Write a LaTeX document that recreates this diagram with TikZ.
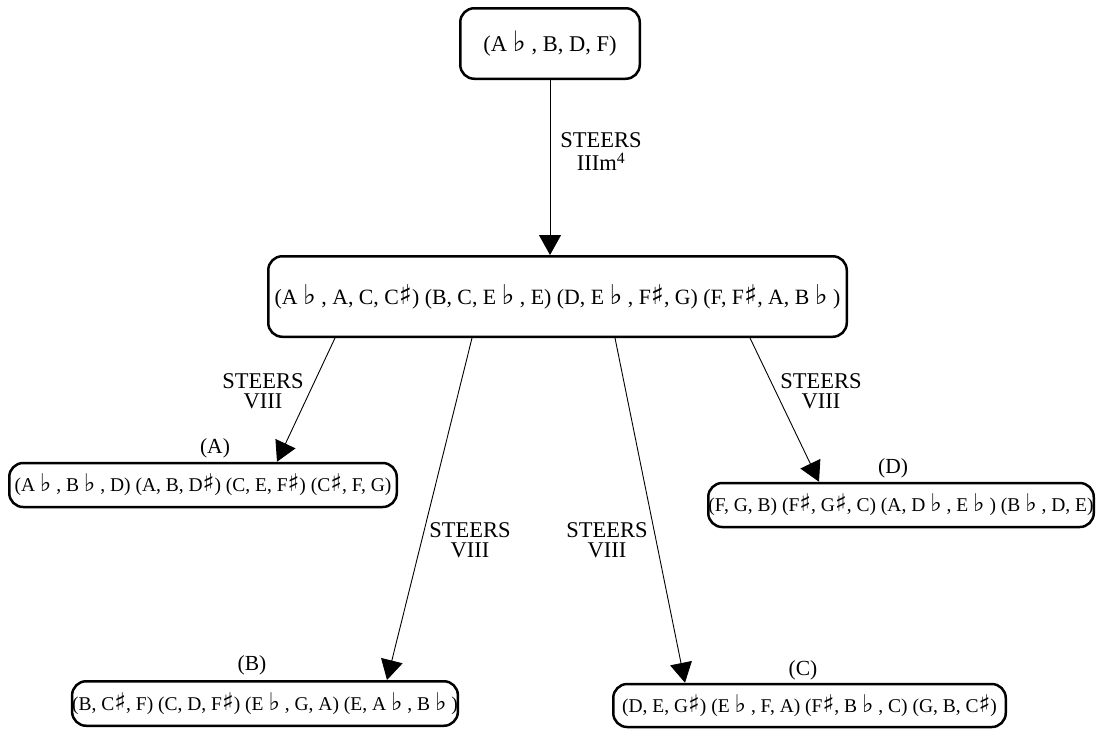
\documentclass[tikz,border=0pt]{standalone}
\usepackage{fontspec}
\setmainfont{Liberation Serif}
\newfontfamily\symf[Scale=1.25]{DejaVu Sans}
\usetikzlibrary{arrows.meta,calc}
\newcommand{\fl}{{\symf\char"266D}}
\newcommand{\shp}{{\symf\char"266F}}
\begin{document}
\begin{tikzpicture}[x=1pt,y=-1pt,
  box/.style={draw=black, line width=2.5pt, rounded corners=14pt, inner sep=0pt, font=\fontsize{21.8}{22}\selectfont},
  sbox/.style={box, font=\fontsize{19.5}{20}\selectfont},
  arr/.style={-{Triangle[length=20pt,width=22pt]}, line width=0.9pt},
  lab/.style={font=\fontsize{22.5}{20.5}\selectfont, align=center, inner sep=0pt},
  xlab/.style={font=\fontsize{21.5}{22}\selectfont, inner sep=0pt}]
\useasboundingbox (0,0) rectangle (1099,734);
\node[box, minimum width=179.5pt, minimum height=70.5pt, font=\fontsize{22.5}{22}\selectfont] (top) at (550,43.5) {(A \fl\ , B, D, F)};
\node[box, minimum width=578.5pt, minimum height=80.5pt] (mid) at (557.5,296.5)
  {(A \fl\ , A, C, C\shp) (B, C, E \fl\ , E) (D, E \fl\ , F\shp, G) (F, F\shp, A, B \fl\ )};
\node[sbox, minimum width=387.5pt, minimum height=44pt] (A) at (203,485)
  {(A \fl\ , B \fl\ , D) (A, B, D\shp) (C, E, F\shp) (C\shp, F, G)};
\node[sbox, minimum width=385.5pt, minimum height=44pt] (D) at (901,505)
  {(F, G, B) (F\shp, G\shp, C) (A, D \fl\ , E \fl\ ) (B \fl\ , D, E)};
\node[sbox, minimum width=383.5pt, minimum height=44.5pt] (B) at (265,703.5)
  {(B, C\shp, F) (C, D, F\shp) (E \fl\ , G, A) (E, A \fl\ , B \fl\ )};
\node[sbox, minimum width=392.5pt, minimum height=43pt] (C) at (809.5,705.5)
  {(D, E, G\shp) (E \fl\ , F, A) (F\shp, B \fl\ , C) (G, B, C\shp)};
\node[xlab] (lA) at (215,448) {(A)};
\node[xlab] (lD) at (893,468) {(D)};
\node[xlab] (lB) at (252,665) {(B)};
\node[xlab] (lC) at (803,670) {(C)};
\draw[arr] (top.south) -- ([xshift=-7.5pt]mid.north);
\node[lab, font=\fontsize{22.5}{23}\selectfont] (e0) at (601,152) {STEERS\\IIIm\textsuperscript{4}};
\draw[arr] ([xshift=-222.5pt]mid.south) -- ([xshift=74pt]A.north);
\draw[arr] ([xshift=-85.5pt]mid.south) -- ([xshift=122pt]B.north);
\draw[arr] ([xshift=57.5pt]mid.south) -- ([xshift=-124.5pt]C.north);
\draw[arr] ([xshift=192.5pt]mid.south) -- ([xshift=-82pt]D.north);
\node[lab] (e1) at (263,391) {STEERS\\VIII};
\node[lab] (e2) at (470,540) {STEERS\\VIII};
\node[lab] (e3) at (607,540) {STEERS\\VIII};
\node[lab] (e4) at (821,391) {STEERS\\VIII};
\end{tikzpicture}
\end{document}
